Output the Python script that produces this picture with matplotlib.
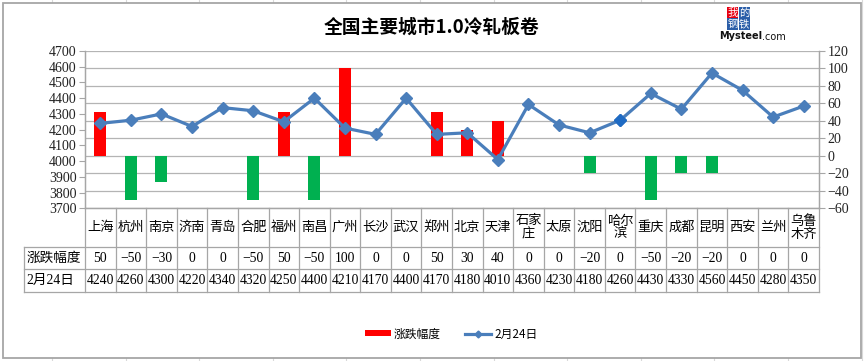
import numpy as np
import matplotlib
matplotlib.use('Agg')
import matplotlib.pyplot as plt
from matplotlib.patches import Rectangle, Patch
from matplotlib.lines import Line2D
import matplotlib.transforms as mtransforms

plt.rcParams['font.family'] = ['Liberation Serif', 'Noto Sans CJK SC', 'DejaVu Sans']

cities = ['上海', '杭州', '南京', '济南', '青岛', '合肥', '福州', '南昌', '广州', '长沙',
          '武汉', '郑州', '北京', '天津', '石家\n庄', '太原', '沈阳', '哈尔\n滨', '重庆',
          '成都', '昆明', '西安', '兰州', '乌鲁\n木齐']
change = [50, -50, -30, 0, 0, -50, 50, -50, 100, 0, 0, 50, 30, 40, 0, 0, -20, 0,
          -50, -20, -20, 0, 0, 0]
price = [4240, 4260, 4300, 4220, 4340, 4320, 4250, 4400, 4210, 4170, 4400, 4170,
         4180, 4010, 4360, 4230, 4180, 4260, 4430, 4330, 4560, 4450, 4280, 4350]
change_name = '涨跌幅度'
price_name = '2月24日'
title = '全国主要城市1.0冷轧板卷'

W, H = 865, 361
def fx(px):
    return px / W
def fy(py):
    return 1 - py / H

fig = plt.figure(figsize=(W / 100, H / 100), dpi=100)

# excel sheet background + chart frame
for k in range(12):
    x0 = 52 + 73.6 * k
    fig.add_artist(Line2D([fx(x0), fx(x0)], [0, 1], color='#d9d9d9', lw=0.8, zorder=-2))
fig.add_artist(Rectangle((fx(3), fy(358)), fx(858), 355 / H, facecolor='white',
                         edgecolor='#a6a6a6', lw=1.3, zorder=-1))

grid_c = '#b4b4b4'
tab_c = '#a6a6a6'

ax = fig.add_axes([fx(85), fy(208.3), fx(819 - 85), (208.3 - 51) / H])
ax.set_facecolor('none')
x = np.arange(len(cities))
cols = ['#ff0000' if v > 0 else '#00b050' for v in change]
ax.bar(x, change, width=0.39, color=cols, zorder=2)
ax.set_ylim(-60, 120)
ax.set_yticks(range(-60, 121, 20))
ax.set_xlim(-0.5, len(cities) - 0.5)
ax.set_xticks([])
ax.grid(axis='y', color=grid_c, lw=0.9, zorder=0)
ax.set_axisbelow(True)

ax2 = ax.twinx()
ax2.patch.set_visible(False)
ax2.plot(x, price, color='#4a7ebb', lw=2.3, marker='D', markersize=6.5, zorder=3)
hb = 17
ax2.plot(x[hb], price[hb], 'D', color='#1f6bc4', markersize=6.5, zorder=4)
ax2.set_ylim(3700, 4700)
ax2.set_yticks(range(3700, 4701, 100))
ax2.yaxis.tick_left()
ax.yaxis.tick_right()

for a in (ax, ax2):
    a.spines['top'].set_visible(False)
    for s in ('left', 'right', 'bottom'):
        a.spines[s].set_color(tab_c)
        a.spines[s].set_linewidth(0.9)
    a.tick_params(axis='y', colors=tab_c, labelcolor='#222222', labelsize=10,
                  length=4, width=0.8, pad=2)

# data table below the plot
tr = mtransforms.blended_transform_factory(ax.transData, fig.transFigure)
y_axis, y_r1, y_r2, y_r3 = 208.3, 247.3, 269.3, 291.7
def tline(xs, ys):
    ax.add_line(Line2D(xs, ys, transform=tr, color=tab_c, lw=0.9, clip_on=False))

n = len(cities)
for k in range(n + 1):
    tline([k - 0.5, k - 0.5], [fy(y_axis), fy(y_r3)])
tline([-2.5, -2.5], [fy(y_r1), fy(y_r3)])
for yy in (y_r1, y_r2, y_r3):
    tline([-2.5, n - 0.5], [fy(yy), fy(yy)])

def fmt(v):
    return str(v).replace('-', '\u2212')

for i in range(n):
    ax.text(i, fy((y_axis + y_r1) / 2), cities[i], transform=tr, ha='center',
            va='center', fontsize=9.5, linespacing=1.05)
    ax.text(i, fy((y_r1 + y_r2) / 2), fmt(change[i]), transform=tr, ha='center',
            va='center', fontsize=9.8)
    ax.text(i, fy((y_r2 + y_r3) / 2), str(price[i]), transform=tr, ha='center',
            va='center', fontsize=9.8)
ax.text(-2.42, fy((y_r1 + y_r2) / 2), change_name, transform=tr, ha='left',
        va='center', fontsize=9.8)
ax.text(-2.42, fy((y_r2 + y_r3) / 2), price_name, transform=tr, ha='left',
        va='center', fontsize=9.8)

# title
fig.text(fx(432), fy(27), title, ha='center', va='center', fontsize=13.5,
         fontweight='bold', family=['Noto Sans CJK SC', 'DejaVu Sans'])

# logo
logo = [('我', 727, 7, '#e60012'), ('的', 738.5, 7, '#2b5ea8'),
        ('钢', 727, 18.5, '#2b5ea8'), ('铁', 738.5, 18.5, '#2b5ea8')]
for ch, lx, ly, c in logo:
    fig.add_artist(Rectangle((fx(lx), fy(ly + 11)), 11 / W, 11 / H, facecolor=c,
                             edgecolor='none'))
    fig.text(fx(lx + 5.5), fy(ly + 5.5), ch, ha='center', va='center', fontsize=7.5,
             color='white', family=['Noto Sans CJK SC'])
fig.text(fx(719), fy(36), 'Mysteel', ha='left', va='center', fontsize=7,
         fontweight='bold', family='DejaVu Sans', color='#111111')
fig.text(fx(762), fy(37), '.com', ha='left', va='center', fontsize=7,
         family='DejaVu Sans', color='#111111')

# legend
handles = [Patch(facecolor='#ff0000', edgecolor='none', label=change_name),
           Line2D([], [], color='#4a7ebb', lw=2.3, marker='D', markersize=3.5,
                  label=price_name)]
fig.legend(handles=handles, loc='center', bbox_to_anchor=(fx(451), fy(334)), ncol=2,
           frameon=False, handlelength=2.2, handleheight=0.45, handletextpad=0.3,
           columnspacing=2.0, prop={'family': ['Noto Sans CJK SC'], 'size': 8.5})

fig.savefig('out.png', dpi=100)
